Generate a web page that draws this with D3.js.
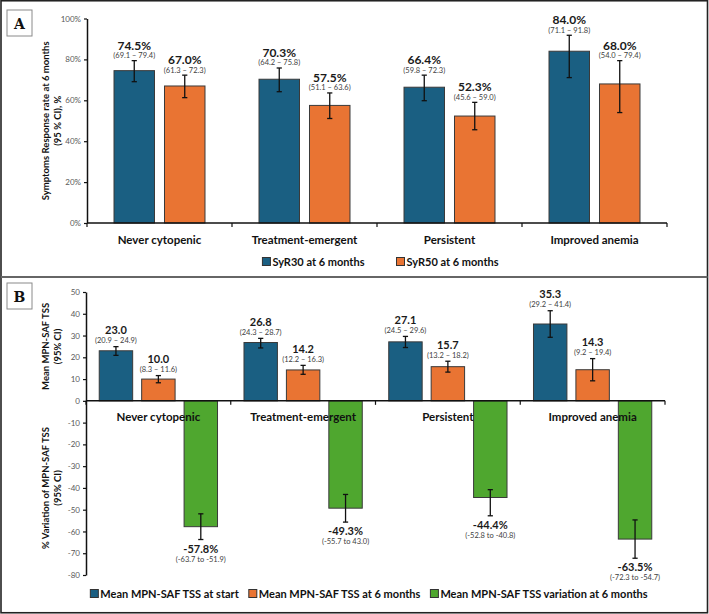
<!DOCTYPE html>
<html>
<head>
<meta charset="utf-8">
<script src="https://cdn.jsdelivr.net/npm/d3@7"></script>
<style>
  html, body { margin: 0; padding: 0; background: #fff; }
  svg { display: block; font-family: Lato, "Open Sans", sans-serif; }
</style>
</head>
<body>
<svg id="chart" width="709" height="614"></svg>
<script>
// ---------- DATA ----------
const categories = ["Never cytopenic", "Treatment-emergent", "Persistent", "Improved anemia"];

const syrSeries = ["SyR30 at 6 months", "SyR50 at 6 months"];
const syr30 = [74.5, 70.3, 66.4, 84.0];
const syr30Low = [69.1, 64.2, 59.8, 71.1];
const syr30High = [79.4, 75.8, 72.3, 91.8];
const syr50 = [67.0, 57.5, 52.3, 68.0];
const syr50Low = [61.3, 51.1, 45.6, 54.0];
const syr50High = [72.3, 63.6, 59.0, 79.4];
const syrTicks = [0, 20, 40, 60, 80, 100];

const tssSeries = ["Mean MPN-SAF TSS at start", "Mean MPN-SAF TSS at 6 months", "Mean MPN-SAF TSS variation at 6 months"];
const tssStart = [23.0, 26.8, 27.1, 35.3];
const tssStartLow = [20.9, 24.3, 24.5, 29.2];
const tssStartHigh = [24.9, 28.7, 29.6, 41.4];
const tss6 = [10.0, 14.2, 15.7, 14.3];
const tss6Low = [8.3, 12.2, 13.2, 9.2];
const tss6High = [11.6, 16.3, 18.2, 19.4];
const tssVar = [-57.8, -49.3, -44.4, -63.5];
const tssVarLow = [-63.7, -55.7, -52.8, -72.3];
const tssVarHigh = [-51.9, -43.0, -40.8, -54.7];
const tssVarCiLabels = ["(-63.7 to -51.9)", "(-55.7 to 43.0)", "(-52.8 to -40.8)", "(-72.3 to -54.7)"];
const tssTicks = [50, 40, 30, 20, 10, 0, -10, -20, -30, -40, -50, -60, -70, -80];

// ---------- STYLE ----------
const colors = ["#1A5F82", "#E97433", "#4FA72F"];
const barStroke = "#3a3a3a";
const tickColor = "#595959";
const W = 709, H = 614;

const locale = d3.formatLocale({ decimal: ".", thousands: ",", grouping: [3], currency: ["", ""], minus: "-" });
const fmt1 = locale.format(".1f");
const fmt0 = locale.format("d");

const svg = d3.select("#chart");

// Frame
svg.append("rect").attr("x", 1).attr("y", 0.75).attr("width", W - 2.5).attr("height", H - 2)
  .attr("fill", "none").attr("stroke", "#222").attr("stroke-width", 1.6);
svg.append("line").attr("x1", 1).attr("x2", W - 1.5).attr("y1", 277).attr("y2", 277)
  .attr("stroke", "#666").attr("stroke-width", 2);

function panelTag(letter, x, y) {
  svg.append("rect").attr("x", x).attr("y", y).attr("width", 25).attr("height", 26)
    .attr("fill", "#fff").attr("stroke", "#8a8a8a").attr("stroke-width", 1);
  svg.append("text").attr("x", x + 12.5).attr("y", y + 18.5).attr("text-anchor", "middle")
    .attr("font-family", "'DejaVu Serif', 'Liberation Serif', serif").attr("font-weight", "bold")
    .attr("font-size", 14).attr("fill", "#111").text(letter);
}
panelTag("A", 7, 10);
panelTag("B", 7, 283);

function errorBar(g, x, yLo, yHi) {
  const cap = 2.6;
  g.append("line").attr("x1", x).attr("x2", x).attr("y1", yLo).attr("y2", yHi)
    .attr("stroke", "#111").attr("stroke-width", 1.3);
  g.append("line").attr("x1", x - cap).attr("x2", x + cap).attr("y1", yLo).attr("y2", yLo)
    .attr("stroke", "#111").attr("stroke-width", 1.3);
  g.append("line").attr("x1", x - cap).attr("x2", x + cap).attr("y1", yHi).attr("y2", yHi)
    .attr("stroke", "#111").attr("stroke-width", 1.3);
}

function legend(items, cx, y, gap, fontSize) {
  const g = svg.append("g");
  let xPos = 0;
  items.forEach((name, i) => {
    const it = g.append("g");
    it.append("rect").attr("x", 0).attr("y", -8).attr("width", 8).attr("height", 8)
      .attr("fill", colors[i]).attr("stroke", "#333").attr("stroke-width", 1);
    const t = it.append("text").attr("x", 10).attr("y", 0).attr("font-size", fontSize)
      .attr("font-weight", "bold").attr("fill", "#111").text(name);
    const w = 10 + t.node().getComputedTextLength();
    it.attr("transform", `translate(${xPos},0)`);
    xPos += w + gap;
  });
  const total = xPos - gap;
  g.attr("transform", `translate(${cx - total / 2},${y})`);
}

// ================= PANEL A =================
const xA = d3.scaleBand().domain(categories).range([87, 667]).padding(0);
const xAinner = d3.scaleBand().domain(syrSeries).range([0, xA.bandwidth()])
  .paddingInner(0.198).paddingOuter(0.535);
const yA = d3.scaleLinear().domain([0, 100]).range([223, 18.5]);

const gA = svg.append("g");
const syrData = [
  { vals: syr30, lo: syr30Low, hi: syr30High },
  { vals: syr50, lo: syr50Low, hi: syr50High }
];

syrData.forEach((s, si) => {
  categories.forEach((c, ci) => {
    const x0 = xA(c) + xAinner(syrSeries[si]);
    const bw = xAinner.bandwidth();
    gA.append("rect").attr("x", x0).attr("y", yA(s.vals[ci])).attr("width", bw)
      .attr("height", yA(0) - yA(s.vals[ci])).attr("fill", colors[si])
      .attr("stroke", barStroke).attr("stroke-width", 1);
    const cx = x0 + bw / 2;
    errorBar(gA, cx, yA(s.lo[ci]), yA(s.hi[ci]));
    const capY = yA(s.hi[ci]);
    gA.append("text").attr("x", cx).attr("y", capY - 11).attr("text-anchor", "middle")
      .attr("font-size", 12).attr("font-weight", "bold").attr("fill", "#1a1a1a")
      .text(fmt1(s.vals[ci]) + "%");
    gA.append("text").attr("x", cx).attr("y", capY - 2.5).attr("text-anchor", "middle")
      .attr("font-size", 7.5).attr("fill", "#404040")
      .text("(" + fmt1(s.lo[ci]) + " \u2013 " + fmt1(s.hi[ci]) + ")");
  });
});

// Y axis A
const axA = svg.append("g").attr("transform", "translate(87,0)")
  .call(d3.axisLeft(yA).tickValues(syrTicks).tickFormat(d => d + "%").tickSize(3).tickSizeOuter(0));
axA.select(".domain").attr("stroke", "#111").attr("stroke-width", 1.5);
axA.selectAll(".tick line").attr("stroke", "#111").attr("stroke-width", 1.2);
axA.selectAll(".tick text").attr("font-size", 8).attr("fill", tickColor)
  .attr("font-family", "Lato, sans-serif").attr("x", -6);

// X axis A (category boundaries)
const boundsA = categories.map(c => xA(c)).concat([xA.range()[1]]);
svg.append("line").attr("x1", xA.range()[0]).attr("x2", xA.range()[1])
  .attr("y1", yA(0)).attr("y2", yA(0)).attr("stroke", "#111").attr("stroke-width", 1.5);
boundsA.forEach(b => {
  svg.append("line").attr("x1", b).attr("x2", b).attr("y1", yA(0)).attr("y2", yA(0) + 4)
    .attr("stroke", "#111").attr("stroke-width", 1.2);
});
categories.forEach(c => {
  svg.append("text").attr("x", xA(c) + xA.bandwidth() / 2).attr("y", 243.5)
    .attr("text-anchor", "middle").attr("font-size", 11.5).attr("font-weight", "bold")
    .attr("fill", "#111").text(c);
});

// Y title A
const ytA = svg.append("text").attr("transform", `translate(49,${(yA(0) + yA(100)) / 2}) rotate(-90)`)
  .attr("text-anchor", "middle").attr("font-size", 9.5).attr("font-weight", "bold").attr("fill", "#111");
ytA.append("tspan").attr("x", 0).attr("dy", 0).text("Symptoms Response rate at 6 months");
ytA.append("tspan").attr("x", 0).attr("dy", 12).text("(95 % CI), %");

legend(syrSeries, 380.5, 265.5, 32, 11);

// ================= PANEL B =================
const xB = d3.scaleBand().domain(categories).range([86, 665]).padding(0);
const xBinner = d3.scaleBand().domain(tssSeries).range([0, xB.bandwidth()])
  .paddingInner(0.212).paddingOuter(0.312);
const yB = d3.scaleLinear().domain([-80, 50]).range([575, 292]);

const gB = svg.append("g");
const tssData = [
  { vals: tssStart, lo: tssStartLow, hi: tssStartHigh },
  { vals: tss6, lo: tss6Low, hi: tss6High },
  { vals: tssVar, lo: tssVarLow, hi: tssVarHigh }
];

tssData.forEach((s, si) => {
  categories.forEach((c, ci) => {
    const x0 = xB(c) + xBinner(tssSeries[si]);
    const bw = xBinner.bandwidth();
    const v = s.vals[ci];
    gB.append("rect").attr("x", x0).attr("y", Math.min(yB(v), yB(0))).attr("width", bw)
      .attr("height", Math.abs(yB(v) - yB(0))).attr("fill", colors[si])
      .attr("stroke", barStroke).attr("stroke-width", 1);
  });
});

// X axis B
const boundsB = categories.map(c => xB(c)).concat([xB.range()[1]]);
svg.append("line").attr("x1", xB.range()[0]).attr("x2", xB.range()[1])
  .attr("y1", yB(0)).attr("y2", yB(0)).attr("stroke", "#111").attr("stroke-width", 1.5);
boundsB.forEach(b => {
  svg.append("line").attr("x1", b).attr("x2", b).attr("y1", yB(0)).attr("y2", yB(0) + 4)
    .attr("stroke", "#111").attr("stroke-width", 1.2);
});

tssData.forEach((s, si) => {
  categories.forEach((c, ci) => {
    const x0 = xB(c) + xBinner(tssSeries[si]);
    const cx = x0 + xBinner.bandwidth() / 2;
    errorBar(gB, cx, yB(s.lo[ci]), yB(s.hi[ci]));
    if (s.vals[ci] >= 0) {
      const capY = yB(s.hi[ci]);
      svg.append("text").attr("x", cx).attr("y", capY - 12.5).attr("text-anchor", "middle")
        .attr("font-size", 11).attr("font-weight", "bold").attr("fill", "#1a1a1a")
        .text(fmt1(s.vals[ci]));
      svg.append("text").attr("x", cx).attr("y", capY - 3.5).attr("text-anchor", "middle")
        .attr("font-size", 7.5).attr("fill", "#404040")
        .text("(" + fmt1(s.lo[ci]) + " \u2013 " + fmt1(s.hi[ci]) + ")");
    } else {
      const capY = yB(s.lo[ci]);
      svg.append("text").attr("x", cx).attr("y", capY + 13).attr("text-anchor", "middle")
        .attr("font-size", 11).attr("font-weight", "bold").attr("fill", "#1a1a1a")
        .text(fmt1(s.vals[ci]) + "%");
      svg.append("text").attr("x", cx).attr("y", capY + 22).attr("text-anchor", "middle")
        .attr("font-size", 7.5).attr("fill", "#404040")
        .text(tssVarCiLabels[ci]);
    }
  });
});

categories.forEach(c => {
  svg.append("text").attr("x", xB(c) + xB.bandwidth() / 2).attr("y", 421)
    .attr("text-anchor", "middle").attr("font-size", 11.5).attr("font-weight", "bold")
    .attr("fill", "#111").text(c);
});

// Y axis B
const axB = svg.append("g").attr("transform", "translate(86,0)")
  .call(d3.axisLeft(yB).tickValues(tssTicks).tickFormat(fmt0).tickSize(3).tickSizeOuter(0));
axB.select(".domain").attr("stroke", "#111").attr("stroke-width", 1.5);
axB.selectAll(".tick line").attr("stroke", "#111").attr("stroke-width", 1.2);
axB.selectAll(".tick text").attr("font-size", 8).attr("fill", tickColor)
  .attr("font-family", "Lato, sans-serif").attr("x", -6);

// Y titles B
const ytB1 = svg.append("text").attr("transform", `translate(49,${(yB(0) + yB(50)) / 2}) rotate(-90)`)
  .attr("text-anchor", "middle").attr("font-size", 9.5).attr("font-weight", "bold").attr("fill", "#111");
ytB1.append("tspan").attr("x", 0).attr("dy", 0).text("Mean MPN-SAF TSS");
ytB1.append("tspan").attr("x", 0).attr("dy", 12).text("(95% CI)");

const ytB2 = svg.append("text").attr("transform", `translate(49,${(yB(0) + yB(-80)) / 2}) rotate(-90)`)
  .attr("text-anchor", "middle").attr("font-size", 9.5).attr("font-weight", "bold").attr("fill", "#111");
ytB2.append("tspan").attr("x", 0).attr("dy", 0).text("% Variation of MPN-SAF TSS");
ytB2.append("tspan").attr("x", 0).attr("dy", 12).text("(95% CI)");

legend(tssSeries, 369, 597.5, 10, 11);
</script>
</body>
</html>
